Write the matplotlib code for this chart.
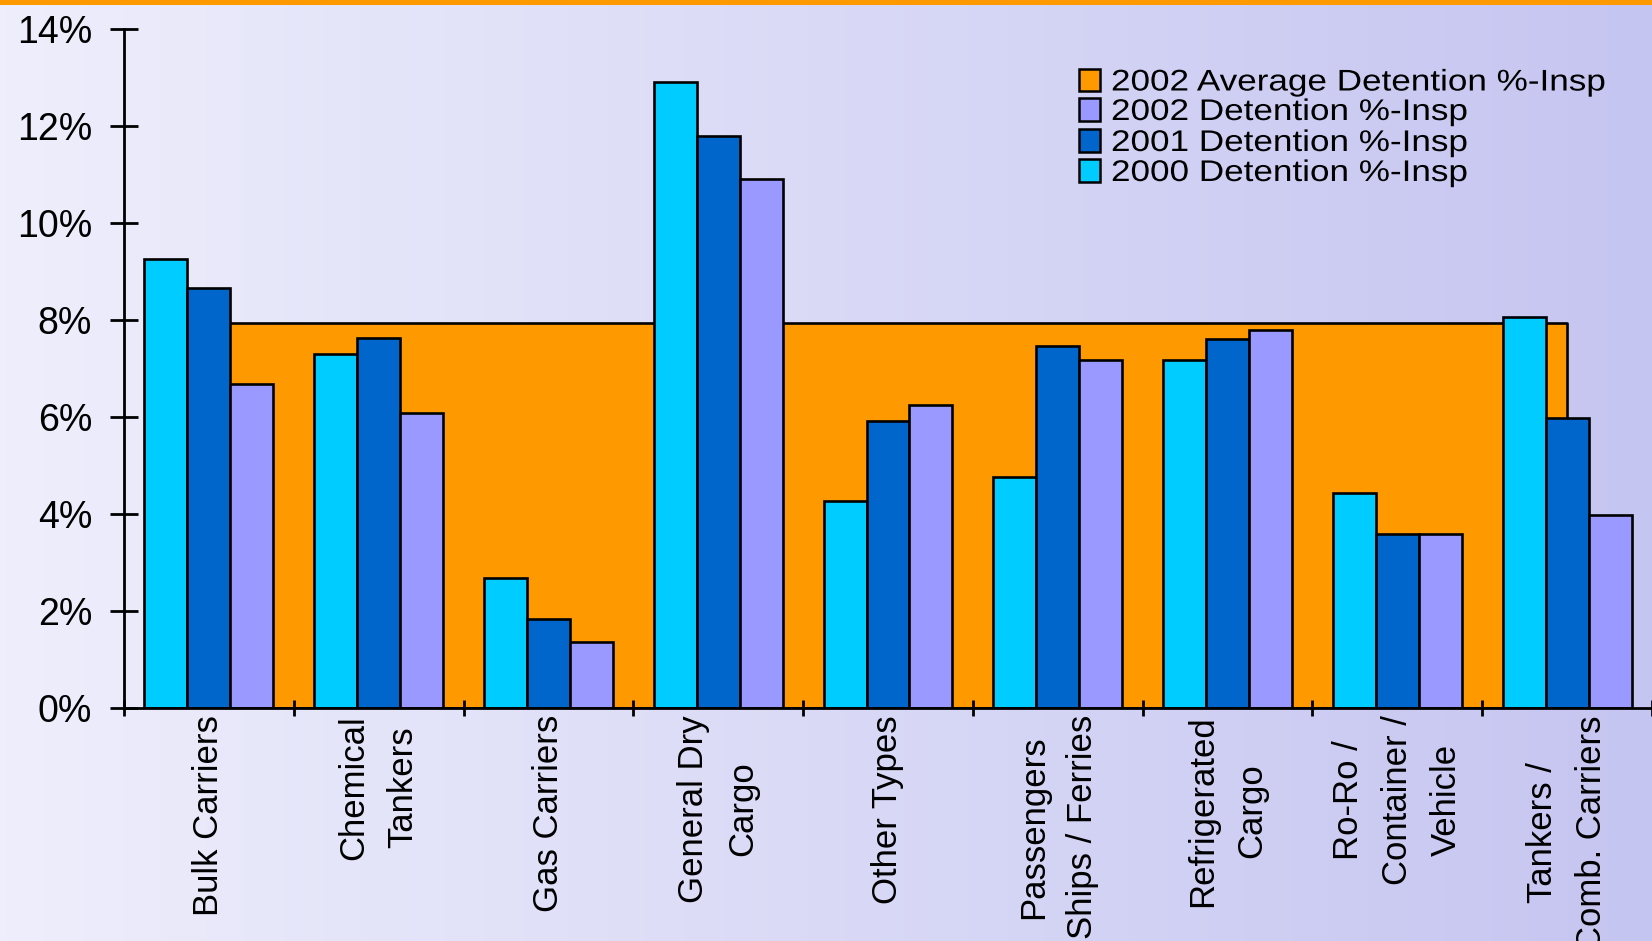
import matplotlib
matplotlib.use("Agg")
import matplotlib.pyplot as plt
import numpy as np
from matplotlib.patches import Rectangle
from matplotlib.colors import LinearSegmentedColormap
from matplotlib.patheffects import AbstractPathEffect
from matplotlib.transforms import Affine2D

# ---------------- data ----------------
categories = ["Bulk Carriers", "Chemical\nTankers", "Gas Carriers", "General Dry\nCargo",
              "Other Types", "Passengers\nShips / Ferries", "Refrigerated\nCargo",
              "Ro-Ro /\nContainer /\nVehicle", "Tankers /\nComb. Carriers"]
det_2000 = [9.27, 7.30, 2.68, 12.91, 4.27, 4.77, 7.18, 4.44, 8.06]
det_2001 = [8.67, 7.63, 1.85, 11.80, 5.92, 7.46, 7.62, 3.60, 5.98]
det_2002 = [6.68, 6.08, 1.36, 10.92, 6.25, 7.18, 7.79, 3.60, 3.99]
avg_2002 = [7.95, 7.95, 7.95, 7.95, 7.95, 7.95, 7.95, 7.95, 7.95]
yticks = [0, 2, 4, 6, 8, 10, 12, 14]
series_names = ["2002 Average Detention %-Insp", "2002 Detention %-Insp",
                "2001 Detention %-Insp", "2000 Detention %-Insp"]

C_AVG, C_2002, C_2001, C_2000 = "#FF9900", "#9999FF", "#0066CC", "#00CCFF"

plt.rcParams['font.family'] = ['Liberation Sans', 'DejaVu Sans']


class StretchX(AbstractPathEffect):
    def __init__(self, sx):
        super().__init__()
        self.sx = sx

    def draw_path(self, renderer, gc, tpath, affine, rgbFace=None):
        renderer.draw_path(gc, tpath, Affine2D().scale(self.sx, 1) + affine, rgbFace)


W, H = 1652, 941
fig = plt.figure(figsize=(W / 100, H / 100), dpi=100)

# background gradient
bg = fig.add_axes([0, 0, 1, 1], zorder=-10)
grad = np.linspace(0, 1, 512).reshape(1, -1)
cmap = LinearSegmentedColormap.from_list('bg', ['#EEEEFC', '#C5C5F1'])
bg.imshow(grad, aspect='auto', cmap=cmap, extent=[0, 1, 0, 1])
bg.set_axis_off()
fig.add_artist(Rectangle((0, 1 - 5 / H), 1, 5 / H, transform=fig.transFigure,
                         facecolor=C_AVG, edgecolor='none'))

# main axes
left_px, zero_px, top_px = 124, 708.3, 29.3
cat_px = 170.0
ax = fig.add_axes([left_px / W, (H - zero_px) / H, (W - left_px) / W, (zero_px - top_px) / H])
ax.patch.set_alpha(0)

x = np.arange(len(categories))
w = 0.253
lw = 1.9
ax.fill_between(x, avg_2002, 0, facecolor=C_AVG, edgecolor='black', linewidth=lw, zorder=1)
ax.bar(x - w, det_2000, w, color=C_2000, edgecolor='black', linewidth=lw, zorder=2)
ax.bar(x, det_2001, w, color=C_2001, edgecolor='black', linewidth=lw, zorder=2)
ax.bar(x + w, det_2002, w, color=C_2002, edgecolor='black', linewidth=lw, zorder=2)

ax.set_xlim(-0.5, -0.5 + (W - left_px) / cat_px)
ax.set_ylim(0, 14)
for s in ['top', 'right']:
    ax.spines[s].set_visible(False)
for s in ['left', 'bottom']:
    ax.spines[s].set_linewidth(2.0)
    ax.spines[s].set_zorder(5)

ax.set_yticks(yticks, [f"{v}%" for v in yticks])
ax.tick_params(axis='y', direction='inout', length=20, width=2.0, pad=13, labelsize=27)

ax.set_xticks(x, categories)
ax.set_xticks(np.arange(-0.5, len(categories) + 0.5, 1), minor=True)
ax.tick_params(axis='x', which='major', length=0, pad=5, labelsize=25)
ax.tick_params(axis='x', which='minor', direction='inout', length=12, width=2.0)
for lbl in ax.get_xticklabels():
    lbl.set_rotation(90)
    lbl.set_multialignment('center')
    lbl.set_linespacing(1.62)
    lbl.set_va('top')
    lbl.set_ha('center')

# legend (manual, matching reference layout)
leg_colors = [C_AVG, C_2002, C_2001, C_2000]
row_centers = [80, 109.5, 140.5, 170.5]
for name, col, cy in zip(series_names, leg_colors, row_centers):
    fig.add_artist(Rectangle((1079 / W, 1 - (cy + 11) / H), 21 / W, 22 / H,
                             transform=fig.transFigure, facecolor=col,
                             edgecolor='black', linewidth=1.8))
    fig.text(1111 / W, 1 - (cy + 10.5) / H, name, fontsize=21.5, ha='left',
             va='baseline', color='black', path_effects=[StretchX(1.175)])

fig.savefig("out.png", dpi=100)
